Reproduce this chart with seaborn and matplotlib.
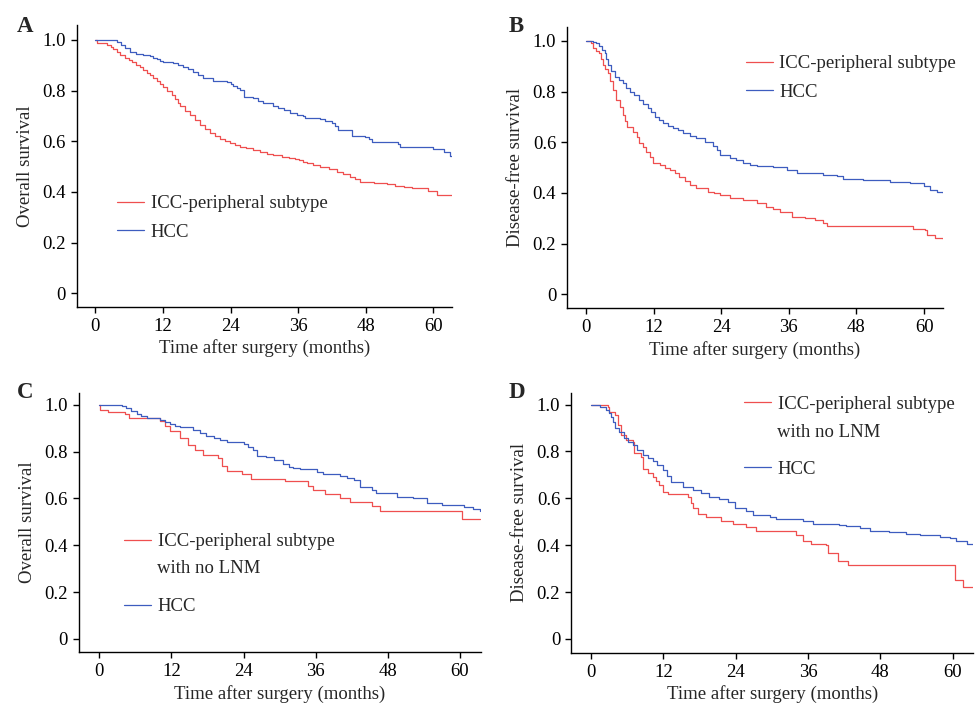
import matplotlib
matplotlib.use('Agg')
import matplotlib.pyplot as plt
import pandas as pd
import seaborn as sns

# Panel A - overall survival
a_icc_t = [0, 0.3, 2.0, 2.7, 3.2, 3.8, 4.4, 5.2, 5.9, 6.6, 7.3, 7.9, 8.5, 9.1, 9.7, 10.3, 10.9, 11.5,
           12.1, 12.8, 13.6, 14.2, 14.6, 15.0, 15.9, 16.8, 17.7, 18.6, 19.5, 20.4, 21.2, 22.1, 23.0,
           23.9, 24.8, 25.7, 26.8, 28.0, 29.2, 30.4, 31.6, 33.1, 34.3, 35.5, 36.2, 36.9, 37.5, 38.7,
           39.9, 41.4, 42.9, 44.0, 45.2, 46.1, 47.0, 49.4, 51.7, 53.2, 54.7, 56.2, 57.6, 59.0, 60.6,
           63.3]
a_icc_s = [1.0, 0.986, 0.98, 0.972, 0.963, 0.952, 0.941, 0.93, 0.921, 0.911, 0.901, 0.892, 0.882,
           0.871, 0.86, 0.849, 0.837, 0.825, 0.813, 0.80, 0.783, 0.766, 0.752, 0.739, 0.72, 0.704,
           0.684, 0.664, 0.648, 0.632, 0.619, 0.608, 0.60, 0.595, 0.585, 0.579, 0.572, 0.566, 0.558,
           0.55, 0.545, 0.537, 0.534, 0.53, 0.525, 0.52, 0.513, 0.505, 0.50, 0.49, 0.48, 0.47, 0.46,
           0.45, 0.44, 0.434, 0.43, 0.425, 0.421, 0.417, 0.414, 0.405, 0.388, 0.388]
a_hcc_t = [0, 3.8, 4.5, 5.3, 6.2, 7.3, 8.5, 9.7, 10.3, 10.9, 11.5, 12.1, 13.8, 14.7, 15.6, 16.5,
           17.4, 18.3, 19.2, 20.9, 23.3, 24.0, 24.5, 25.1, 25.7, 26.3, 28.0, 28.9, 29.8, 31.6, 32.5,
           33.4, 34.6, 35.8, 36.9, 37.2, 39.9, 40.8, 42.0, 42.6, 43.1, 45.5, 47.9, 48.5, 49.1, 52.0,
           53.8, 54.1, 57.1, 60.0, 61.8, 63.0, 63.3]
a_hcc_s = [1.0, 0.99, 0.98, 0.967, 0.954, 0.945, 0.941, 0.937, 0.93, 0.924, 0.918, 0.912, 0.908,
           0.90, 0.895, 0.885, 0.875, 0.862, 0.849, 0.839, 0.833, 0.826, 0.818, 0.81, 0.803, 0.776,
           0.77, 0.76, 0.75, 0.739, 0.73, 0.724, 0.711, 0.705, 0.70, 0.691, 0.688, 0.68, 0.671, 0.66,
           0.645, 0.622, 0.618, 0.61, 0.599, 0.596, 0.589, 0.576, 0.576, 0.57, 0.557, 0.542, 0.542]

# Panel B - disease-free survival
b_icc_t = [0, 0.9, 1.2, 1.8, 2.4, 2.7, 3.0, 3.4, 3.9, 4.3, 4.8, 5.4, 6.0, 6.6, 7.0, 7.3, 8.4, 9.0,
           9.5, 10.1, 10.7, 11.3, 11.9, 13.1, 14.0, 14.9, 15.8, 16.6, 17.5, 18.4, 19.6, 21.7, 22.8,
           23.8, 25.5, 27.9, 30.3, 32.0, 33.2, 34.4, 36.5, 38.9, 40.6, 42.1, 42.7, 58.1, 60.2, 60.5,
           62.0, 63.3]
b_icc_s = [1.0, 0.99, 0.971, 0.962, 0.951, 0.93, 0.905, 0.89, 0.872, 0.84, 0.807, 0.767, 0.74,
           0.708, 0.685, 0.662, 0.642, 0.62, 0.596, 0.58, 0.563, 0.54, 0.517, 0.511, 0.50, 0.491,
           0.478, 0.464, 0.448, 0.432, 0.418, 0.405, 0.398, 0.392, 0.382, 0.372, 0.362, 0.343, 0.335,
           0.326, 0.306, 0.30, 0.293, 0.283, 0.27, 0.257, 0.254, 0.234, 0.222, 0.217]
b_hcc_t = [0, 1.2, 1.8, 2.4, 2.8, 3.3, 3.6, 3.9, 4.5, 5.1, 5.8, 6.6, 7.2, 7.8, 8.6, 9.5, 10.2, 11.0,
           11.6, 12.2, 12.9, 13.7, 14.6, 15.5, 16.3, 17.2, 18.4, 19.6, 21.1, 22.6, 23.2, 23.8, 25.5,
           26.7, 27.9, 29.1, 30.3, 33.2, 35.6, 37.4, 42.1, 44.5, 45.7, 49.2, 54.0, 57.5, 59.9, 61.1,
           62.3, 63.3]
b_hcc_s = [1.0, 0.997, 0.99, 0.978, 0.965, 0.951, 0.93, 0.905, 0.88, 0.859, 0.845, 0.833, 0.815,
           0.80, 0.785, 0.767, 0.75, 0.734, 0.718, 0.701, 0.688, 0.675, 0.665, 0.658, 0.648, 0.636,
           0.625, 0.616, 0.60, 0.587, 0.57, 0.55, 0.539, 0.53, 0.52, 0.512, 0.508, 0.501, 0.491,
           0.479, 0.47, 0.467, 0.457, 0.451, 0.445, 0.438, 0.428, 0.411, 0.405, 0.401]

# Panel C - overall survival, no LNM
c_icc_t = [0, 0.1, 1.5, 4.3, 4.9, 10.1, 10.9, 11.8, 13.4, 14.8, 15.9, 17.3, 19.8, 20.4, 21.2, 23.7,
           25.3, 30.9, 34.8, 35.6, 37.5, 40.0, 41.7, 45.3, 46.7, 60.4, 63.4]
c_icc_s = [1.0, 0.979, 0.968, 0.96, 0.943, 0.929, 0.908, 0.886, 0.858, 0.829, 0.808, 0.787, 0.773,
           0.737, 0.718, 0.704, 0.683, 0.673, 0.652, 0.637, 0.62, 0.602, 0.585, 0.566, 0.545, 0.513,
           0.513]
c_hcc_t = [0, 3.7, 4.5, 5.3, 6.2, 7.0, 7.9, 10.1, 10.9, 11.8, 12.6, 13.4, 15.6, 16.7, 17.8, 19.0,
           20.1, 21.2, 24.0, 24.8, 25.6, 26.2, 27.8, 29.0, 30.6, 31.5, 32.3, 33.4, 36.2, 37.3, 40.1,
           41.2, 42.3, 43.4, 45.3, 46.1, 48.1, 49.5, 52.2, 54.5, 57.0, 60.6, 62.2, 63.4]
c_hcc_s = [1.0, 0.996, 0.984, 0.972, 0.96, 0.95, 0.942, 0.935, 0.925, 0.916, 0.91, 0.906, 0.892,
           0.878, 0.866, 0.856, 0.848, 0.842, 0.832, 0.82, 0.807, 0.781, 0.775, 0.764, 0.747, 0.736,
           0.728, 0.724, 0.714, 0.704, 0.695, 0.688, 0.678, 0.65, 0.636, 0.624, 0.622, 0.607, 0.60,
           0.582, 0.572, 0.565, 0.553, 0.545]

# Panel D - disease-free survival, no LNM
d_icc_t = [0, 1.4, 2.8, 3.0, 3.9, 4.4, 5.0, 5.8, 6.9, 7.2, 8.3, 8.6, 9.4, 10.2, 10.8, 11.3, 11.9,
           12.7, 16.1, 16.5, 16.9, 17.7, 19.1, 21.6, 23.5, 25.7, 27.4, 34.0, 35.1, 36.5, 39.0, 39.3,
           41.0, 42.6, 60.3, 60.8, 61.7, 63.4]
d_icc_s = [1.0, 0.997, 0.991, 0.97, 0.956, 0.913, 0.871, 0.849, 0.842, 0.792, 0.775, 0.724, 0.71,
           0.693, 0.675, 0.657, 0.629, 0.619, 0.605, 0.58, 0.558, 0.533, 0.519, 0.505, 0.491, 0.479,
           0.462, 0.445, 0.417, 0.403, 0.40, 0.367, 0.332, 0.315, 0.253, 0.25, 0.221, 0.221]
d_hcc_t = [0, 1.4, 2.5, 2.9, 3.3, 3.6, 3.9, 4.7, 5.5, 6.2, 6.9, 7.7, 8.6, 9.4, 10.2, 11.0, 11.9, 12.6,
           13.3, 15.2, 16.9, 18.2, 19.6, 21.2, 22.7, 23.8, 25.7, 26.8, 29.6, 30.7, 35.1, 36.8, 41.2,
           42.3, 44.6, 46.2, 49.5, 52.3, 54.5, 57.8, 59.5, 60.6, 62.3, 63.4]
d_hcc_s = [1.0, 0.991, 0.977, 0.963, 0.949, 0.925, 0.899, 0.885, 0.857, 0.842, 0.828, 0.806, 0.785,
           0.773, 0.761, 0.742, 0.721, 0.695, 0.671, 0.65, 0.636, 0.622, 0.607, 0.597, 0.586, 0.558,
           0.548, 0.529, 0.522, 0.512, 0.505, 0.491, 0.487, 0.48, 0.472, 0.461, 0.455, 0.448, 0.444,
           0.434, 0.429, 0.419, 0.407, 0.405]

x_ticks = [0, 12, 24, 36, 48, 60]
y_ticks = [0, 0.2, 0.4, 0.6, 0.8, 1.0]
y_ticklabels = ['0', '0.2', '0.4', '0.6', '0.8', '1.0']
red = '#ef4f4f'
blue = '#3d5cbf'

sns.set_theme(style='ticks')
plt.rcParams['font.family'] = ['Liberation Serif', 'DejaVu Serif']
plt.rcParams['axes.linewidth'] = 1.0

W, H = 976, 708
fig = plt.figure(figsize=(W / 100, H / 100), dpi=100)

# pixel boxes: left, top, right, bottom
panels = [
    dict(letter='A', box=(76.7, 25, 452, 307), xlim=(-3.3, 63.3), ylim=(-0.054, 1.059),
         ylabel='Overall survival', icc=(a_icc_t, a_icc_s), hcc=(a_hcc_t, a_hcc_s),
         leg=(117, 195, 0.62), extra=None, lpos=(17, 31.7)),
    dict(letter='B', box=(567.3, 26.7, 942.7, 308.3), xlim=(-3.3, 63.3), ylim=(-0.055, 1.056),
         ylabel='Disease-free survival', icc=(b_icc_t, b_icc_s), hcc=(b_hcc_t, b_hcc_s),
         leg=(745.7, 55, 0.62), extra=None, lpos=(509, 31.7)),
    dict(letter='C', box=(79, 392.7, 480.7, 652.3), xlim=(-3.38, 63.46), ylim=(-0.057, 1.051),
         ylabel='Overall survival', icc=(c_icc_t, c_icc_s), hcc=(c_hcc_t, c_hcc_s),
         leg=(124, 533, 2.55), extra=(157, 572.7), lpos=(16.7, 398.3)),
    dict(letter='D', box=(571.3, 392.7, 973.3, 652.7), xlim=(-3.28, 63.4), ylim=(-0.059, 1.051),
         ylabel='Disease-free survival', icc=(d_icc_t, d_icc_s), hcc=(d_hcc_t, d_hcc_s),
         leg=(744, 395.5, 2.55), extra=(776.7, 436.7), lpos=(509, 398.3)),
]

fs = 13.5
for p in panels:
    l, t, r, b = p['box']
    ax = fig.add_axes([l / W, 1 - b / H, (r - l) / W, (b - t) / H])
    df = pd.concat([
        pd.DataFrame({'time': p['icc'][0], 'surv': p['icc'][1], 'group': 'ICC'}),
        pd.DataFrame({'time': p['hcc'][0], 'surv': p['hcc'][1], 'group': 'HCC'}),
    ])
    sns.lineplot(data=df, x='time', y='surv', hue='group', palette={'ICC': red, 'HCC': blue},
                 estimator=None, drawstyle='steps-post', linewidth=0.9, legend=False, ax=ax)
    ax.set_xlim(*p['xlim'])
    ax.set_ylim(*p['ylim'])
    ax.set_xticks(x_ticks)
    ax.set_yticks(y_ticks)
    ax.set_yticklabels(y_ticklabels)
    ax.tick_params(direction='out', length=4, width=1.0, labelsize=fs, pad=4, colors='black')
    ax.set_xlabel('Time after surgery (months)', fontsize=fs, labelpad=3)
    ax.set_ylabel(p['ylabel'], fontsize=fs, labelpad=6)
    for s in ['top', 'right']:
        ax.spines[s].set_visible(False)
    for s in ['left', 'bottom']:
        ax.spines[s].set_color('black')
    lx, ly, sp = p['leg']
    ax.legend(handles=ax.lines[:2], labels=['ICC-peripheral subtype', 'HCC'], loc='upper left',
              bbox_to_anchor=(lx / W, 1 - ly / H), bbox_transform=fig.transFigure,
              frameon=False, borderpad=0, borderaxespad=0, handlelength=1.44,
              handletextpad=0.36, labelspacing=sp, fontsize=fs)
    if p['extra'] is not None:
        ex, ey = p['extra']
        fig.text(ex / W, 1 - ey / H, 'with no LNM', fontsize=fs, va='baseline', ha='left')
    px, py = p['lpos']
    fig.text(px / W, 1 - py / H, p['letter'], fontsize=16.5, fontweight='bold', va='baseline')

fig.savefig('out.png', dpi=100)
